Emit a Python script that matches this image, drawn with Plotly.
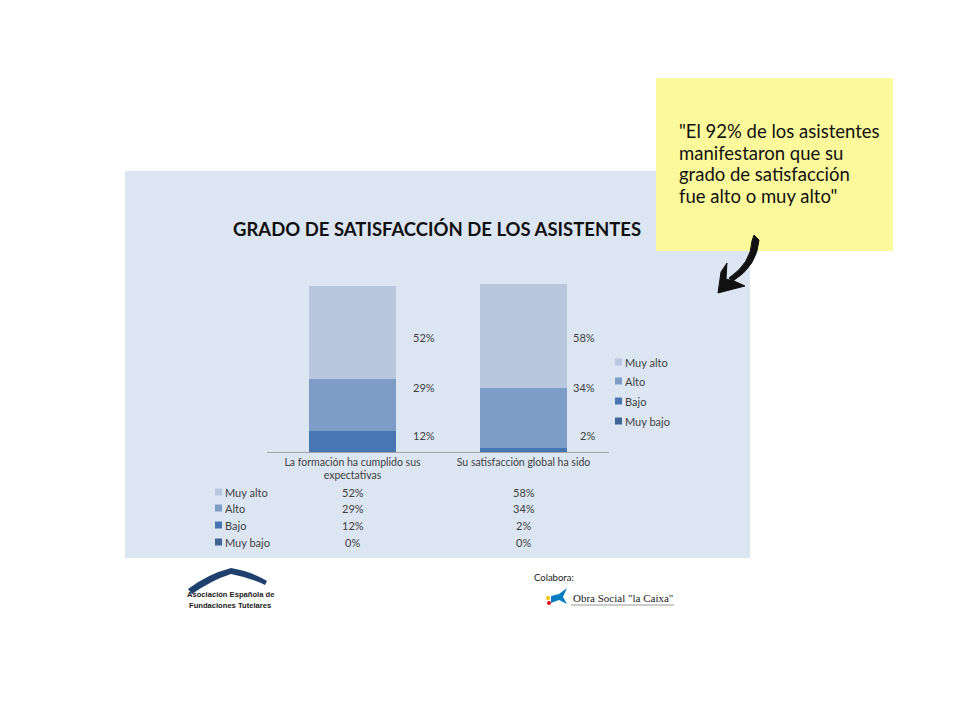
import plotly.graph_objects as go

# ---------------- data ----------------
categories = ["La formación ha cumplido sus<br>expectativas", "Su satisfacción global ha sido"]
series_names = ["Muy bajo", "Bajo", "Alto", "Muy alto"]
muy_bajo = [0, 0]
bajo = [12, 2]
alto = [29, 34]
muy_alto = [52, 58]
series_values = [muy_bajo, bajo, alto, muy_alto]
series_colors = ["#3E6596", "#4876B2", "#7E9CC8", "#B8C6DE"]
title_text = "GRADO DE SATISFACCIÓN DE LOS ASISTENTES"
note_lines = ["\"El 92% de los asistentes", "manifestaron que su", "grado de satisfacción", "fue alto o muy alto\""]

W, H = 960, 720
TXT = "#404040"
FONT = "Lato, Liberation Sans, sans-serif"


def px(x):
    return x / W


def py(y):
    return 1 - y / H


def path(cmds):
    """cmds: list of (letter, [x, y, ...]) in pixel space -> SVG path in paper space."""
    out = []
    for letter, nums in cmds:
        step = 4 if letter == "Q" else 2
        for i in range(0, len(nums), step):
            chunk = nums[i:i + step]
            pts = [f"{px(chunk[j]):.5f},{py(chunk[j + 1]):.5f}" for j in range(0, len(chunk), 2)]
            out.append(letter + " " + " ".join(pts))
    return " ".join(out) + " Z"


fig = go.Figure()

for name, vals, col in zip(series_names, series_values, series_colors):
    fig.add_trace(go.Bar(
        x=categories, y=[v / 100 for v in vals], name=name,
        marker=dict(color=col, line=dict(width=0)),
        hoverinfo="skip", showlegend=False,
    ))

shapes = []
annotations = []


def ptext(x, y, text, size, family=FONT, color=TXT, xanchor="left"):
    annotations.append(dict(xref="paper", yref="paper", x=px(x), y=py(y), text=text,
                            showarrow=False, xanchor=xanchor, yanchor="middle",
                            font=dict(family=family, size=size, color=color)))


def square(x0, yc, color):
    shapes.append(dict(type="rect", xref="paper", yref="paper", x0=px(x0), x1=px(x0 + 7),
                       y0=py(yc + 3.5), y1=py(yc - 3.5), fillcolor=color, line=dict(width=0)))


# chart panel background
shapes.append(dict(type="rect", xref="paper", yref="paper", x0=px(125), x1=px(750), y0=py(558), y1=py(171),
                   fillcolor="#DCE6F2", line=dict(width=0), layer="below"))
# yellow note
shapes.append(dict(type="rect", xref="paper", yref="paper", x0=px(656), x1=px(893), y0=py(251), y1=py(78),
                   fillcolor="#FCF99C", line=dict(width=0), layer="below"))

# data labels beside bars (fixed label slots, right aligned)
label_slots = [None, 0.09, 0.36, 0.64]
label_right_px = [437, 597]
for si, name in enumerate(series_names):
    if label_slots[si] is None:
        continue
    for ci in range(len(categories)):
        annotations.append(dict(
            xref="paper", yref="y", x=px(label_right_px[ci]), y=label_slots[si],
            text=f"{series_values[si][ci]}%", showarrow=False, xanchor="right", yanchor="middle",
            font=dict(family=FONT, size=11, color=TXT)))

# legend (right of the plot), top = Muy alto
legend_y = {"Muy alto": 362, "Alto": 381, "Bajo": 401, "Muy bajo": 421}
for si, name in enumerate(series_names):
    square(615, legend_y[name], series_colors[si])
    ptext(623, legend_y[name], name, 11)

# data table below the chart
row_y = {"Muy alto": 492, "Alto": 508, "Bajo": 525, "Muy bajo": 542}
for si, name in enumerate(series_names):
    y = row_y[name]
    square(215, y, series_colors[si])
    ptext(223, y, name, 11)
    for ci in range(len(categories)):
        annotations.append(dict(xref="x", yref="paper", x=categories[ci], y=py(y),
                                text=f"{series_values[si][ci]}%", showarrow=False,
                                xanchor="center", yanchor="middle",
                                font=dict(family=FONT, size=11, color=TXT)))

# title
ptext(437, 229, f"<b>{title_text}</b>", 18.5, color="#111111", xanchor="center")

# note text
for i, line in enumerate(note_lines):
    ptext(677, 131 + i * 21.5, line, 18.5, family="Lato, sans-serif", color="#111111")

# curved arrow: shaft + head
shapes.append(dict(type="path", xref="paper", yref="paper",
                   path=path([("M", [754, 235]), ("L", [759, 240]), ("Q", [757, 266, 733, 281]),
                              ("L", [729, 278]), ("Q", [751, 263, 752, 241])]),
                   fillcolor="#111111", line=dict(color="#111111", width=1)))
shapes.append(dict(type="path", xref="paper", yref="paper",
                   path=path([("M", [718, 293]), ("L", [721, 272, 727, 263, 726, 279, 734, 281, 745, 286])]),
                   fillcolor="#111111", line=dict(color="#111111", width=1)))

# AEFT logo (roof)
shapes.append(dict(type="path", xref="paper", yref="paper",
                   path=path([("M", [188, 589]), ("Q", [208, 574, 231, 568]), ("Q", [253, 572, 267, 581]),
                              ("L", [265, 585]), ("Q", [251, 578, 231, 574]), ("Q", [212, 580, 192, 594])]),
                   fillcolor="#1F3F6E", line=dict(width=0)))
ptext(230, 594, "<b>Asociación Española de</b>", 7.6,
      family="Liberation Sans, sans-serif", color="#1A1A1A", xanchor="center")
ptext(230, 605, "<b>Fundaciones Tutelares</b>", 7.6,
      family="Liberation Sans, sans-serif", color="#1A1A1A", xanchor="center")

# Colabora / Obra Social "la Caixa"
ptext(532, 577, "Colabora:", 9.5, color="#222222")
ptext(571, 598, "Obra Social \"la Caixa\"", 11, family="Liberation Serif, serif", color="#1A1A1A")
shapes.append(dict(type="line", xref="paper", yref="paper", x0=px(571), x1=px(674), y0=py(605), y1=py(605),
                   line=dict(color="#999999", width=1)))
shapes.append(dict(type="path", xref="paper", yref="paper",
                   path=path([("M", [551, 596]), ("L", [559, 594, 567, 588, 563, 597, 567, 604, 559, 600, 551, 603])]),
                   fillcolor="#0A7CC1", line=dict(width=0)))
shapes.append(dict(type="circle", xref="paper", yref="paper", x0=px(546), x1=px(550), y0=py(600), y1=py(596),
                   fillcolor="#F2C300", line=dict(width=0)))
shapes.append(dict(type="circle", xref="paper", yref="paper", x0=px(547), x1=px(551), y0=py(605), y1=py(601),
                   fillcolor="#E2001A", line=dict(width=0)))

fig.update_layout(
    width=W, height=H,
    margin=dict(l=0, r=0, t=0, b=0),
    paper_bgcolor="white",
    plot_bgcolor="rgba(0,0,0,0)",
    barmode="stack",
    bargap=0.49,
    showlegend=False,
    xaxis=dict(domain=[px(267), px(609)], range=[-0.5, 1.5],
               showline=True, linecolor="#A6A6A6", linewidth=1,
               showgrid=False, zeroline=False, ticks="",
               tickfont=dict(family=FONT, size=10.5, color=TXT)),
    yaxis=dict(domain=[py(452), py(273.5)], range=[0, 1], visible=False,
               showgrid=False, zeroline=False),
    shapes=shapes,
    annotations=annotations,
)

fig.write_html("out.html")
